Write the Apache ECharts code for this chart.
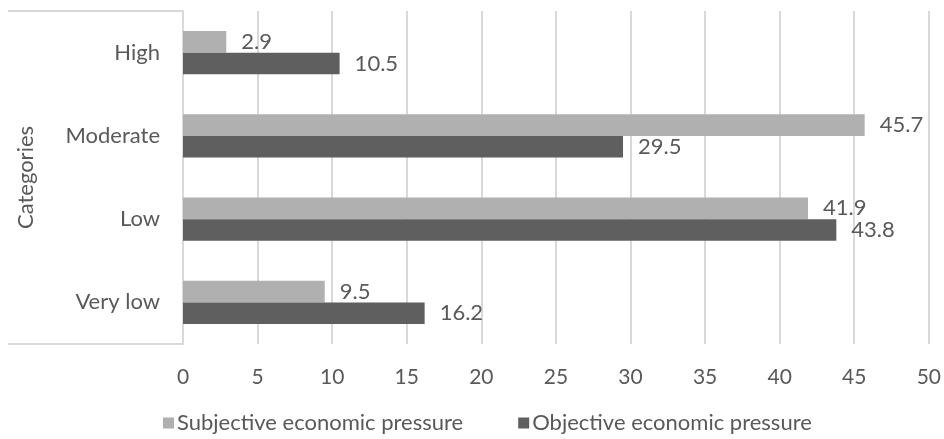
<!DOCTYPE html>
<html><head><meta charset="utf-8">
<script src="https://cdn.jsdelivr.net/npm/echarts@6/dist/echarts.min.js"></script>
<style>html,body{margin:0;padding:0;background:#fff}#c{width:944px;height:439px}</style>
</head><body><div id="c"></div>
<script>
var categories = ['High', 'Moderate', 'Low', 'Very low'];
var subjective = [2.9, 45.7, 41.9, 9.5];
var objective = [10.5, 29.5, 43.8, 16.2];
var xTicks = {min: 0, max: 50, interval: 5};
var seriesNames = ['Subjective economic pressure', 'Objective economic pressure'];

var FONT = 'Lato';
var TXT = '#595959';
var G = {left: 183, right: 15, top: 11, bottom: 95};
var chart = echarts.init(document.getElementById('c'), null, {renderer: 'canvas'});
var lbl = {show: true, position: 'right', distance: 15, color: TXT, fontFamily: FONT, fontSize: 22};
chart.setOption({
  animation: false,
  textStyle: {fontFamily: FONT},
  grid: {left: G.left, right: G.right, top: G.top, bottom: G.bottom, containLabel: false},
  legend: {
    bottom: 0, left: 158, itemWidth: 11, itemHeight: 11, itemGap: 55, icon: 'rect',
    textStyle: {color: TXT, fontFamily: FONT, fontSize: 22, padding: [0, 0, 0, -2]},
    data: seriesNames
  },
  xAxis: {
    type: 'value', min: xTicks.min, max: xTicks.max, interval: xTicks.interval,
    axisLine: {show: false}, axisTick: {show: false},
    axisLabel: {color: TXT, fontFamily: FONT, fontSize: 21, margin: 23},
    splitLine: {show: true, lineStyle: {color: '#d9d9d9', width: 2}}
  },
  yAxis: {
    type: 'category', data: categories, inverse: true,
    name: 'Categories', nameLocation: 'middle', nameRotate: 90, nameGap: 146,
    nameTextStyle: {color: TXT, fontFamily: FONT, fontSize: 22},
    axisLine: {show: true, lineStyle: {color: '#d9d9d9', width: 2}},
    axisTick: {show: false},
    axisLabel: {color: TXT, fontFamily: FONT, fontSize: 22, margin: 23}
  },
  series: [
    {name: seriesNames[0], type: 'bar', data: subjective, barGap: '0%', barCategoryGap: '48%',
     itemStyle: {color: '#b0b0b0'}, label: lbl},
    {name: seriesNames[1], type: 'bar', data: objective, barGap: '0%', barCategoryGap: '48%',
     itemStyle: {color: '#5f5f5f'}, label: lbl}
  ]
});
var H = 439;
chart.setOption({
  graphic: [
    {type: 'line', shape: {x1: 8, y1: G.top, x2: G.left, y2: G.top}, style: {stroke: '#d9d9d9', lineWidth: 2}, silent: true},
    {type: 'line', shape: {x1: 8, y1: H - G.bottom, x2: G.left, y2: H - G.bottom}, style: {stroke: '#d9d9d9', lineWidth: 2}, silent: true}
  ]
});
</script></body></html>
